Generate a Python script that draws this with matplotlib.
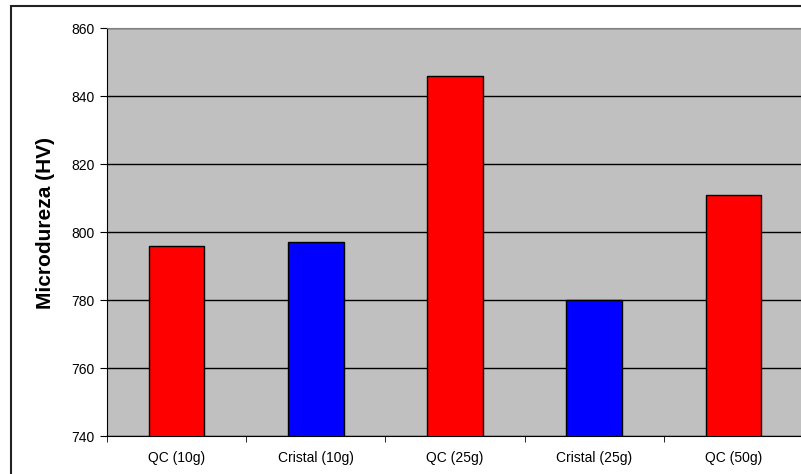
import numpy as np
import matplotlib.pyplot as plt
from matplotlib.patches import Rectangle

categories = ["QC (10g)", "Cristal (10g)", "QC (25g)", "Cristal (25g)", "QC (50g)"]
values = [796, 797, 846, 780, 811]
colors = ["#FF0000", "#0000FF", "#FF0000", "#0000FF", "#FF0000"]
yticks = [740, 760, 780, 800, 820, 840, 860]

W, H = 801, 474
fig = plt.figure(figsize=(W / 100, H / 100), dpi=100)
fig.patch.set_facecolor("white")
plt.rcParams["font.family"] = ["Liberation Sans", "DejaVu Sans"]

# plot area in pixels: left 107, right 803, top 28, bottom 436
ax = fig.add_axes([107 / W, 1 - 436 / H, (803 - 107) / W, (436 - 28) / H])
ax.set_facecolor("#C0C0C0")

x = np.arange(len(categories))
ax.bar(x, values, width=0.4, bottom=0, color=colors, edgecolor="black", linewidth=1, zorder=3)

ax.set_xlim(-0.5, len(categories) - 0.5)
ax.set_ylim(740, 860)
ax.set_yticks(yticks)
ax.set_yticklabels([str(v) for v in yticks], fontsize=10)
ax.yaxis.grid(True, color="black", linewidth=1)
ax.set_axisbelow(True)

ax.set_xticks(x)
ax.set_xticklabels(categories, fontsize=10)
ax.set_xticks(np.arange(-0.5, len(categories), 1), minor=True)
ax.tick_params(axis="x", which="major", length=0, pad=11)
ax.tick_params(axis="x", which="minor", length=4, direction="out", color="black")
ax.tick_params(axis="y", length=5, direction="out", color="black", pad=4)

ax.spines["left"].set_color("black")
ax.spines["bottom"].set_color("black")
ax.spines["top"].set_color("#808080")
ax.spines["right"].set_color("#808080")

ax.set_ylabel("Microdureza (HV)", fontsize=15, fontweight="bold")
ax.yaxis.set_label_coords(-0.075, 0.522)

# outer chart frame
fig.patches.append(Rectangle((11 / W, -0.1), 1.2, 1 - 6 / H + 0.1, transform=fig.transFigure,
                             fill=False, edgecolor="#222222", linewidth=1.5, clip_on=False))

fig.savefig("out.png", dpi=100)
